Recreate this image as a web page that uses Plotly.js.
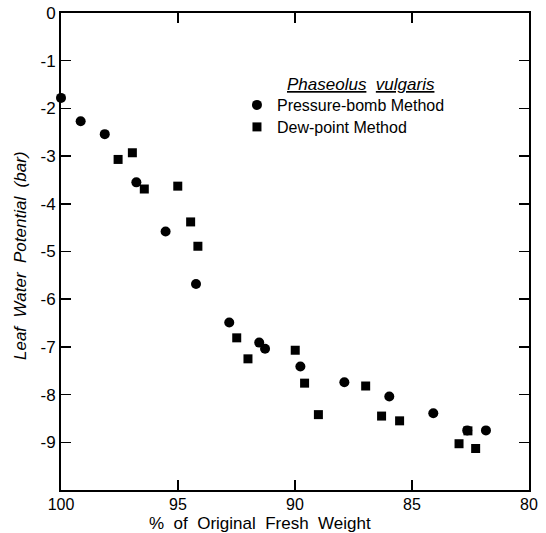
<!DOCTYPE html>
<html>
<head>
<meta charset="utf-8">
<script src="https://cdn.plot.ly/plotly-3.0.1.min.js"></script>
<style>html,body{margin:0;padding:0;background:#fff;}#chart{width:546px;height:533px;}</style>
</head>
<body>
<div id="chart"></div>
<script>
// Pressure-bomb method (circles)
const bombX = [100.0, 99.16, 98.13, 96.78, 95.53, 94.23, 92.81, 91.53, 91.28, 89.77, 87.89, 85.97, 84.09, 82.64, 81.84];
const bombY = [-1.78, -2.27, -2.54, -3.55, -4.58, -5.68, -6.49, -6.91, -7.04, -7.41, -7.74, -8.04, -8.39, -8.75, -8.75];
// Dew-point method (squares)
const dewX = [97.56, 96.95, 96.44, 95.01, 94.46, 94.15, 92.49, 92.01, 89.99, 89.59, 89.00, 86.98, 86.30, 85.53, 82.99, 82.61, 82.28];
const dewY = [-3.07, -2.93, -3.69, -3.63, -4.38, -4.89, -6.81, -7.25, -7.07, -7.76, -8.42, -7.82, -8.45, -8.55, -9.03, -8.76, -9.13];

const xTickVals = [100, 95, 90, 85, 80];
const xTickText = ['100', '95', '90', '85', '80'];
const yTickVals = [0, -1, -2, -3, -4, -5, -6, -7, -8, -9];
const yTickText = ['0', '-1', '-2', '-3', '-4', '-5', '-6', '-7', '-8', '-9'];

const FONT = 'Liberation Sans, Arial, sans-serif';
const SP = '&nbsp;&nbsp;';

const data = [
  {x: bombX, y: bombY, type: 'scatter', mode: 'markers', name: 'Pressure-bomb Method', legend: 'legend',
   marker: {symbol: 'circle', size: 10, color: '#000'}, cliponaxis: false},
  {x: dewX, y: dewY, type: 'scatter', mode: 'markers', name: 'Dew-point Method', legend: 'legend2',
   marker: {symbol: 'square', size: 9, color: '#000'}, cliponaxis: false}
];

const axisCommon = {
  showgrid: false, zeroline: false, showline: true, linecolor: '#000', linewidth: 2,
  mirror: 'ticks', ticks: 'inside', ticklen: 10, tickwidth: 1.5, tickcolor: '#000',
  tickfont: {family: FONT, size: 17, color: '#000'}, tickmode: 'array'
};

const legendCommon = {x: 0.376, xanchor: 'left', yanchor: 'middle', bgcolor: 'rgba(0,0,0,0)',
  font: {family: FONT, size: 16, color: '#000'}};

const layout = {
  width: 546, height: 533,
  margin: {l: 61, r: 17, t: 13, b: 43},
  paper_bgcolor: '#fff', plot_bgcolor: '#fff',
  showlegend: true,
  legend: Object.assign({}, legendCommon, {y: (490 - 105) / 477}),
  legend2: Object.assign({}, legendCommon, {y: (490 - 127) / 477}),
  xaxis: Object.assign({}, axisCommon, {range: [100, 80], tickvals: xTickVals, ticktext: xTickText,
    tickfont: {family: FONT, size: 16, color: '#000'}, ticklabelstandoff: -1}),
  yaxis: Object.assign({}, axisCommon, {range: [-10, 0], tickvals: yTickVals, ticktext: yTickText}),
  annotations: [
    {text: '<i><u>Phaseolus</u>' + SP + '<u>vulgaris</u></i>', xref: 'paper', yref: 'paper',
     x: (361 - 61) / 468, y: (490 - 84) / 477, xanchor: 'center', yanchor: 'middle', showarrow: false,
     font: {family: FONT, size: 17, color: '#000'}},
    {text: '%' + SP + 'of' + SP + 'Original' + SP + 'Fresh' + SP + 'Weight', xref: 'paper', yref: 'paper',
     x: (260 - 61) / 468, y: -33.5 / 477, xanchor: 'center', yanchor: 'middle', showarrow: false,
     font: {family: FONT, size: 17, color: '#000'}},
    {text: '<i>Leaf' + SP + 'Water' + SP + 'Potential' + SP + '(bar)</i>', xref: 'paper', yref: 'paper',
     x: (20 - 61) / 468, y: (490 - 256) / 477, xanchor: 'center', yanchor: 'middle', textangle: -90,
     showarrow: false, font: {family: FONT, size: 17, color: '#000'}}
  ]
};

Plotly.newPlot('chart', data, layout, {displayModeBar: false, staticPlot: true});
</script>
</body>
</html>
